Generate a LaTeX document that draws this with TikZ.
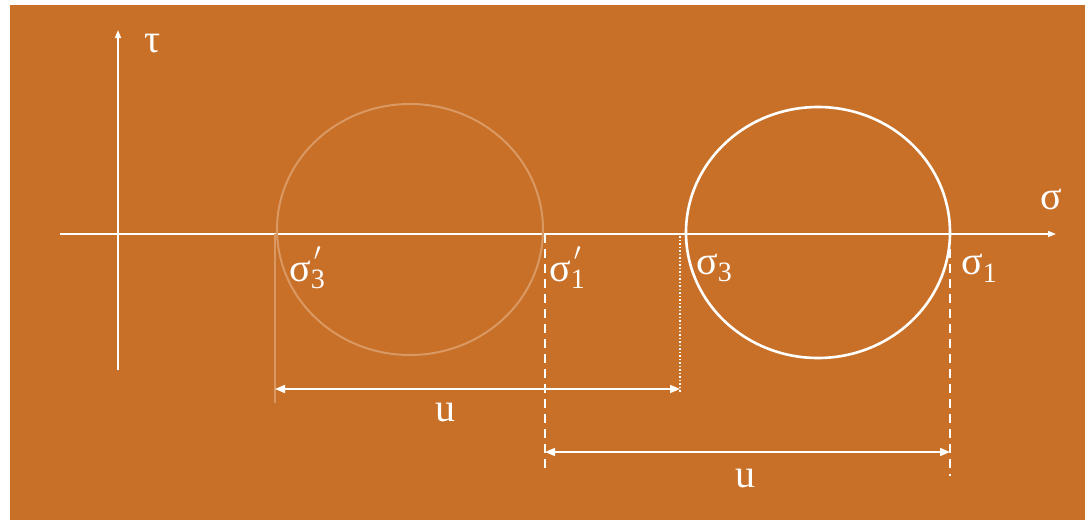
\documentclass[tikz,border=0pt]{standalone}
\usepackage{fontspec}
\setmainfont{Liberation Serif}
\usetikzlibrary{arrows.meta}
\definecolor{bg}{RGB}{200,112,40}
\definecolor{faint}{RGB}{218,152,98}
\tikzset{
  lbl/.style={text=white,font=\fontsize{40}{42}\selectfont,inner sep=0pt},
  axis/.style={white,line width=1.6pt,-{Triangle[length=8pt,width=6pt]}},
  dim/.style={white,line width=1.6pt,{Triangle[length=10pt,width=8pt]}-{Triangle[length=10pt,width=8pt]}},
  guide/.style={white,line width=1.2pt}
}
\newcommand{\sub}[1]{\raisebox{-0.42ex}{\fontsize{28}{30}\selectfont #1}}
\newcommand{\subp}[1]{\rlap{\raisebox{1.1ex}{\fontsize{26}{30}\selectfont\kern3pt$\prime$}}\raisebox{-0.42ex}{\fontsize{28}{30}\selectfont #1}}
\begin{document}
\begin{tikzpicture}[x=1pt,y=-1pt]
\useasboundingbox (0,0) rectangle (1085,520);
\fill[bg] (10,5) rectangle (1085,520);
% axes
\coordinate (tb) at (118,370);
\coordinate (tt) at (118,30);
\coordinate (sl) at (60,234);
\coordinate (sr) at (1056,234);
\draw[axis] (tb) -- (tt);
\draw[axis] (sl) -- (sr);
\node[lbl] (tau) at (153,44) {τ};
\node[lbl] (sig) at (1051,199) {σ};
% circles
\draw[faint,line width=2pt] (410,229.5) ellipse [x radius=133, y radius=125.5];
\draw[white,line width=2.6pt] (818,232.5) ellipse [x radius=132, y radius=125.5];
% labels
\node[lbl,anchor=west] (s3p) at (289,268) {σ\subp{3}};
\node[lbl,anchor=west] (s1p) at (549,268) {σ\subp{1}};
\node[lbl,anchor=west] (s3) at (696,268) {σ\sub{3}};
\node[lbl,anchor=west] (s1) at (961,268) {σ\sub{1}};
% guide lines
\coordinate (a0) at (275,234); \coordinate (a1) at (275,403);
\coordinate (b0) at (545,234); \coordinate (b1) at (545,472);
\coordinate (c0) at (680,236); \coordinate (c1) at (680,392);
\coordinate (d0) at (950,234); \coordinate (d1) at (950,476);
\draw[faint,line width=1.3pt] (a0) -- (a1);
\draw[guide,dash pattern=on 9pt off 6pt] (b0) -- (b1);
\draw[guide,dash pattern=on 1.5pt off 2pt] (c0) -- (c1);
\draw[guide,dash pattern=on 9pt off 6pt] (d0) -- (d1);
% dimension arrows
\coordinate (u1l) at (275,389); \coordinate (u1r) at (680,389);
\coordinate (u2l) at (545,452); \coordinate (u2r) at (950,452);
\draw[dim] (u1l) -- (u1r);
\draw[dim] (u2l) -- (u2r);
\node[lbl] (u1) at (445,413) {u};
\node[lbl] (u2) at (745,479) {u};
\end{tikzpicture}
\end{document}
